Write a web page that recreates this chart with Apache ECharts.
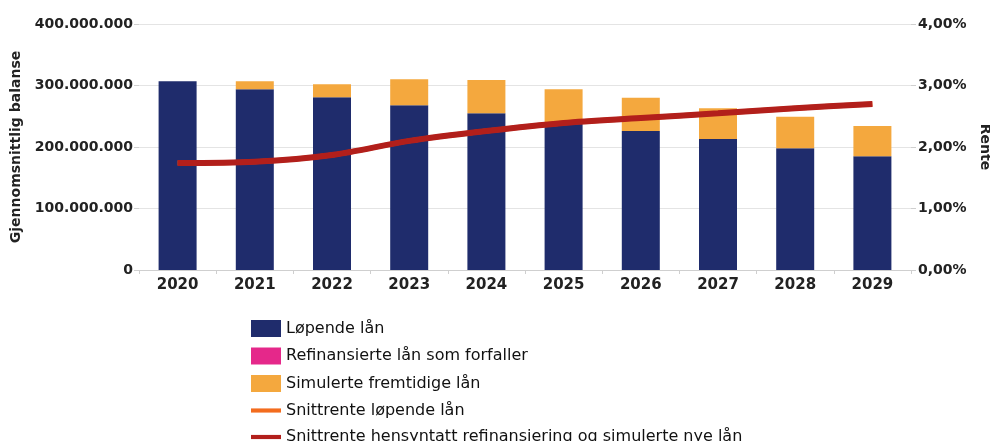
<!DOCTYPE html>
<html>
<head>
<meta charset="utf-8">
<script src="https://cdn.jsdelivr.net/npm/echarts@6/dist/echarts.min.js"></script>
<style>
html, body { margin: 0; padding: 0; background: #fff; }
#chart { width: 990px; height: 441px; }
</style>
</head>
<body>
<div id="chart"></div>
<script>
// år
var years = ['2020', '2021', '2022', '2023', '2024', '2025', '2026', '2027', '2028', '2029'];
// løpende lån (kr)
var lopendeLan = [307000000, 294000000, 281000000, 268000000, 255000000, 239000000, 226000000, 213000000, 198000000, 185000000];
// refinansierte lån som forfaller (kr)
var refinansierteLan = [0, 0, 0, 0, 0, 0, 0, 0, 0, 0];
// simulerte fremtidige lån (kr)
var simulerteLan = [0, 13000000, 21000000, 42000000, 54000000, 55000000, 54000000, 50000000, 51000000, 49000000];
// snittrente løpende lån (%)
var snittrenteLopende = [1.74, 1.76, 1.87, 2.10, 2.26, 2.39, 2.47, 2.55, 2.63, 2.70];
// snittrente hensyntatt refinansiering og simulerte nye lån (%)
var snittrenteTotal = [1.74, 1.76, 1.87, 2.10, 2.26, 2.39, 2.47, 2.55, 2.63, 2.70];
// akseverdier
var balanseTicks = [0, 100000000, 200000000, 300000000, 400000000];
var renteTicks = [0, 1, 2, 3, 4];

var myChart;
var fontName = 'DejaVu Sans';

// tusenskille med punktum
function formatKr(v) {
	return String(v).replace(/\B(?=(\d{3})+(?!\d))/g, '.');
}
// prosent med komma
function formatPct(v) {
	return v.toFixed(2).replace('.', ',') + '%';
}

function chartSetting() {
	var option = {
		animation : false,
		textStyle : { fontFamily : fontName },
		grid : {
			left : 139,
			right : 79,
			top : 24,
			bottom : 171,
			outerBoundsMode : 'none'
		},
		legend : {
			orient : 'vertical',
			left : 246,
			top : 315,
			height : 160,
			itemWidth : 30,
			itemHeight : 17,
			itemGap : 10.5,
			textStyle : { fontSize : 16, color : '#111', fontFamily : fontName },
			data : [
				{ name : 'Løpende lån', icon : 'rect' },
				{ name : 'Refinansierte lån som forfaller', icon : 'rect' },
				{ name : 'Simulerte fremtidige lån', icon : 'rect' },
				{ name : 'Snittrente løpende lån', icon : 'path://M0,0 H36 V5 H0 Z' },
				{ name : 'Snittrente hensyntatt refinansiering og simulerte nye lån', icon : 'path://M0,0 H36 V5 H0 Z' }
			]
		},
		xAxis : [{
			type : 'category',
			data : years,
			axisLine : { lineStyle : { color : '#cfcfcf' } },
			axisTick : { show : true, length : 4, lineStyle : { color : '#cfcfcf' } },
			axisLabel : { fontSize : 15, fontWeight : 'bold', color : '#222', margin : 8 },
			splitLine : { show : false }
		}],
		yAxis : [{
			type : 'value',
			min : balanseTicks[0],
			max : balanseTicks[balanseTicks.length - 1],
			interval : balanseTicks[1] - balanseTicks[0],
			name : 'Gjennomsnittlig balanse',
			nameLocation : 'middle',
			nameGap : 113,
			nameTextStyle : { fontSize : 14, fontWeight : 'bold', color : '#222' },
			axisLine : { show : false },
			axisTick : { show : true, length : 5, lineStyle : { color : '#cfcfcf' } },
			axisLabel : {
				fontSize : 14, fontWeight : 'bold', color : '#222', margin : 6,
				formatter : formatKr
			},
			splitLine : { show : true, lineStyle : { color : '#e4e4e4' } }
		}, {
			type : 'value',
			min : renteTicks[0],
			max : renteTicks[renteTicks.length - 1],
			interval : renteTicks[1] - renteTicks[0],
			position : 'right',
			name : 'Rente',
			nameLocation : 'middle',
			nameRotate : -90,
			nameGap : 51,
			nameTextStyle : { fontSize : 14, fontWeight : 'bold', color : '#222' },
			axisLine : { show : false },
			axisTick : { show : true, length : 5, lineStyle : { color : '#cfcfcf' } },
			axisLabel : {
				fontSize : 14, fontWeight : 'bold', color : '#222', margin : 7,
				formatter : formatPct
			},
			splitLine : { show : false }
		}],
		series : [{
			name : 'Løpende lån',
			type : 'bar',
			stack : 'balanse',
			barWidth : 38,
			itemStyle : { color : '#1f2c6c' },
			data : lopendeLan
		}, {
			name : 'Refinansierte lån som forfaller',
			type : 'bar',
			stack : 'balanse',
			barWidth : 38,
			itemStyle : { color : '#e5288a' },
			data : refinansierteLan
		}, {
			name : 'Simulerte fremtidige lån',
			type : 'bar',
			stack : 'balanse',
			barWidth : 38,
			itemStyle : { color : '#f4a83e' },
			data : simulerteLan
		}, {
			name : 'Snittrente løpende lån',
			type : 'line',
			yAxisIndex : 1,
			smooth : 0.3,
			showSymbol : false,
			itemStyle : { color : '#f36c1e' },
			lineStyle : { color : '#f36c1e', width : 5 },
			data : snittrenteLopende
		}, {
			name : 'Snittrente hensyntatt refinansiering og simulerte nye lån',
			type : 'line',
			yAxisIndex : 1,
			smooth : 0.3,
			showSymbol : false,
			itemStyle : { color : '#b21f1b' },
			lineStyle : { color : '#b21f1b', width : 6 },
			data : snittrenteTotal
		}]
	};
	myChart.setOption(option);
}

myChart = echarts.init(document.getElementById('chart'));
chartSetting();
</script>
</body>
</html>
